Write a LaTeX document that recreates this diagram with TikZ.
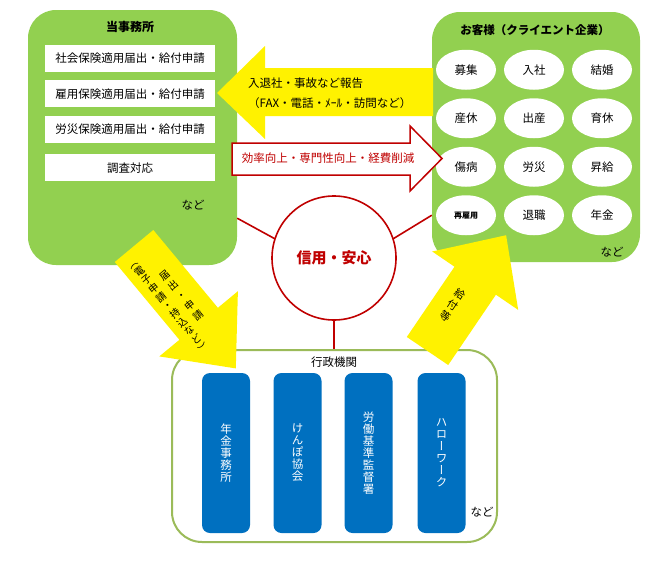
\documentclass[tikz,border=0pt]{standalone}
\usepackage{fontspec}
\setmainfont{Noto Sans CJK JP}
\newfontfamily\vjp[RawFeature=+vert]{Noto Sans CJK JP}
\usetikzlibrary{positioning,matrix,shapes.geometric}
\definecolor{leaf}{HTML}{92D050}
\definecolor{olive}{HTML}{9BBB59}
\definecolor{crimson}{HTML}{C00000}
\definecolor{ocean}{HTML}{0070C0}
\newcommand{\jpsize}{\fontsize{11.5}{14}\selectfont}

\begin{document}
\begin{tikzpicture}[x=1pt,y=-1pt,
  panel/.style={fill=leaf,rounded corners=28pt,inner sep=0pt},
  item/.style={fill=white,minimum width=170pt,minimum height=27pt,
    inner sep=0pt,font=\jpsize},
  event/.style={ellipse,fill=white,minimum width=60pt,minimum height=40pt,
    inner sep=0pt,anchor=center,font=\jpsize},
  bureau/.style={fill=ocean,rounded corners=8pt,minimum width=48pt,
    minimum height=160pt,inner sep=0pt,text=white,align=center,
    font=\vjp\fontsize{11.5}{12}\selectfont},
  heading/.style={font=\fontsize{12}{14}\selectfont\bfseries},
  etc/.style={font=\jpsize},
  block/.style={fill=yellow},
  arrowtext/.style={align=center,inner sep=0pt},
  link/.style={draw=crimson,line width=1.6pt}
]
\fill[white] (0,0) rectangle (652,562);
\useasboundingbox (0,0) rectangle (652,562);

% green panels
\node[panel,minimum width=209pt,minimum height=255pt] (office) at (132.5,137.5) {};
\node[panel,minimum width=208pt,minimum height=250pt] (client) at (536,137) {};
\node[draw=olive,line width=2pt,rounded corners=30pt,minimum width=325pt,
  minimum height=192pt] (agency) at (334.5,446) {};

% office
\node[heading] (officetitle) at (130,27) {当事務所};
\node[item] (social) at (130,58.5) {社会保険適用届出・給付申請};
\node[item,below=8pt of social] (employ) {雇用保険適用届出・給付申請};
\node[item,below=8pt of employ] (accident) {労災保険適用届出・給付申請};
\node[item,below=11pt of accident] (survey) {調査対応};
\node[etc] at (193,205) {など};

% client
\node[heading,font=\fontsize{11.5}{14}\selectfont\bfseries] (clienttitle) at (535,30) {お客様（クライエント企業）};
\matrix (events) [matrix of nodes,nodes={event},column sep=8pt,row sep=8.5pt] at (534,142.5) {
募集 & 入社 & 結婚 \\
産休 & 出産 & 育休 \\
傷病 & 労災 & 昇給 \\
|[font=\fontsize{8}{9}\selectfont\bfseries]| 再雇用 & 退職 & 年金 \\
};
\node[etc] at (612,252) {など};

% agencies
\node[etc] (agencytitle) at (334,362) {行政機関};
\foreach \name/\x/\txt in {pension/226/{年\\金\\事\\務\\所},kenpo/297.5/{け\\ん\\ぽ\\協\\会},
    labour/368.5/{労\\働\\基\\準\\監\\督\\署},hello/441.5/{ハ\\ロ\\ー\\ワ\\ー\\ク}}
  \node[bureau] (\name) at (\x,453) {\txt};
\node[etc] at (482,512) {など};

% links to the trust circle
\coordinate (officelink) at ([yshift=47pt]office.south east);
\coordinate (clientlink) at ([yshift=47pt]client.south west);
\node[circle,minimum size=124pt,inner sep=0pt] (trust) at (334,258) {};
\draw[link] (officelink) -- (trust.162);
\draw[link] (clientlink) -- (trust.18);
\draw[link] (trust.south) -- (trust.south |- agency.north);
\node[circle,draw=crimson,line width=1.6pt,fill=white,minimum size=124pt,inner sep=0pt,
  text=crimson,font=\fontsize{15}{18}\selectfont\bfseries] at (trust) {信用・安心};

% block arrows
\fill[block] (217,93) -- (265,46) -- (265,68) -- (433,68) -- (433,116)
  -- (265,116) -- (265,139) -- cycle;
\node[anchor=west,align=left,inner sep=0pt,font=\fontsize{11.5}{20}\selectfont] (report) at (248,93)
  {入退社・事故など報告\\（FAX・電話・ﾒｰﾙ・訪問など）};
\filldraw[fill=white,draw=crimson,line width=1.5pt] (232,143) -- (410,143) -- (410,126)
  -- (442,158.5) -- (410,191) -- (410,175) -- (232,175) -- cycle;
\node[text=crimson,font=\jpsize] (merit) at (328,158.5) {効率向上・専門性向上・経費削減};
\fill[block] (153.3,230) -- (217.9,307.8) -- (237.9,291.2) -- (235.8,368.4)
  -- (159.3,356.4) -- (179.4,339.8) -- (114.75,262) -- cycle;
\node[arrowtext,rotate=40,font=\vjp\fontsize{10}{10.2}\selectfont] (filing) at (175.5,301.4)
  {\begin{tabular}{@{}c@{\hspace{7pt}}c@{}}
   \begin{tabular}{@{}c@{}}（\\電\\子\\申\\請\\・\\持\\込\\な\\ど\\）\end{tabular} &
   {\fontsize{10}{13}\selectfont\begin{tabular}{@{}c@{}}届\\出\\・\\申\\請\end{tabular}}
   \end{tabular}};
\fill[block] (406.8,337) -- (454.5,266.7) -- (432.2,251.5) -- (506.1,235.2)
  -- (518.2,309.9) -- (495.9,294.7) -- (448.2,365) -- cycle;
\node[arrowtext,rotate=-34,font=\vjp\fontsize{10.5}{13}\selectfont] (benefit) at (452.5,305)
  {給\\付\\等};
\end{tikzpicture}
\end{document}
